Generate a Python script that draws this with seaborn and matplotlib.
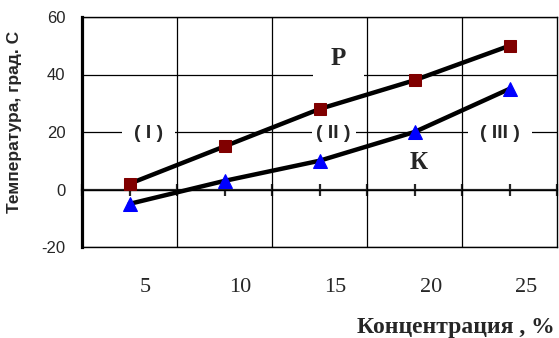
import numpy as np
import pandas as pd
import seaborn as sns
import matplotlib.pyplot as plt

# data
concentration = [5, 10, 15, 20, 25]
temp_p = [2, 15, 28, 38, 50]     # Р, squares
temp_k = [-5, 3, 10, 20, 35]     # К, triangles
y_ticks = [-20, 0, 20, 40, 60]

sns.set_style("white")
plt.rcParams['font.family'] = ['Liberation Sans', 'DejaVu Sans']

df = pd.DataFrame({'pos': np.arange(len(concentration)), 'P': temp_p, 'K': temp_k})

fig = plt.figure(figsize=(5.59, 3.38), dpi=100)
ax = fig.add_axes([82 / 559, 91 / 338, 475 / 559, 230 / 338])

sns.lineplot(data=df, x='pos', y='P', ax=ax, color='black', lw=3.2, marker='s',
             markersize=9, markerfacecolor='#800000', markeredgecolor='#800000', zorder=4)
sns.lineplot(data=df, x='pos', y='K', ax=ax, color='black', lw=3.2, marker='^',
             markersize=10.5, markerfacecolor='#0000ff', markeredgecolor='#0000ff', zorder=4)

ax.set_xlim(-0.5, len(concentration) - 0.5)
ax.set_ylim(-20, 60)
ax.set_yticks(y_ticks)
ax.set_yticklabels([str(v) for v in y_ticks], fontsize=12)
ax.tick_params(axis='y', direction='out', length=6, width=2, pad=6)

# category labels sit a little right of the points, under the plot
ax.set_xticks(df['pos'] + 0.17)
ax.set_xticklabels([str(c) for c in concentration], family='Liberation Serif', fontsize=16)
ax.set_xticks(np.arange(0.5, len(concentration) - 0.5, 1), minor=True)
ax.tick_params(axis='x', which='both', length=0, pad=22)

ax.grid(axis='y', which='major', color='black', lw=0.9)
ax.grid(axis='x', which='minor', color='black', lw=0.9)
ax.grid(axis='x', which='major', visible=False)
ax.set_axisbelow(True)
ax.set_xlabel('')
ax.set_ylabel('')

for side in ['top', 'right', 'bottom']:
    ax.spines[side].set_linewidth(1.0)
    ax.spines[side].set_color('black')
ax.spines['left'].set_linewidth(2.3)
ax.spines['left'].set_color('black')

# zero line with tick marks
zero = ax.secondary_xaxis(0.25)
zero.set_xticks(np.arange(-0.5, len(concentration), 0.5))
zero.tick_params(direction='inout', length=9, width=1.6, labelbottom=False, labeltop=False)
zero.spines['bottom'].set_linewidth(1.6)
zero.spines['top'].set_linewidth(1.6)

box = dict(facecolor='white', edgecolor='none', boxstyle='square,pad=0.6')
ax.text(0.2, 19.5, '( I )', ha='center', va='center', fontsize=14, fontweight='bold', bbox=box, zorder=2)
ax.text(2.15, 19.5, '( II )', ha='center', va='center', fontsize=14, fontweight='bold',
        bbox=dict(facecolor='white', edgecolor='none', boxstyle='square,pad=0.25'), zorder=2)
ax.text(3.9, 19.5, '( III )', ha='center', va='center', fontsize=14, fontweight='bold', bbox=box, zorder=2)
ax.text(2.2, 45.7, 'Р', ha='center', va='center', fontsize=18, fontweight='bold',
        family='Liberation Serif', bbox=dict(facecolor='white', edgecolor='none', boxstyle='square,pad=0.7'), zorder=2)
ax.text(3.04, 9.4, 'К', ha='center', va='center', fontsize=18, fontweight='bold',
        family='Liberation Serif', zorder=2)

fig.text(15 / 559, 1 - 122 / 338, 'Температура, град. С', rotation=90, ha='center', va='center',
         fontsize=12.5, fontweight='bold')
fig.text(555 / 559, 1 - 327 / 338, 'Концентрация , %', ha='right', va='center',
         fontsize=17, fontweight='bold', family='Liberation Serif')

fig.savefig('out.png', dpi=100)
